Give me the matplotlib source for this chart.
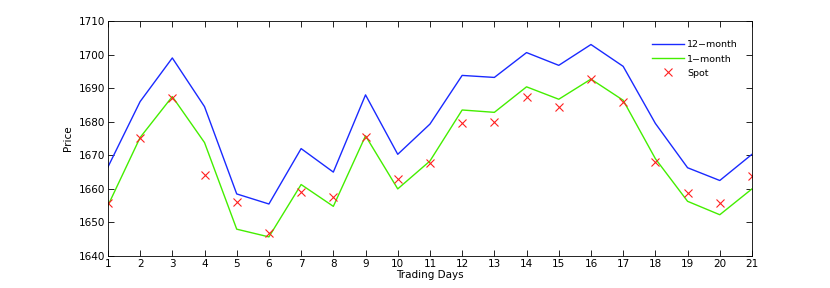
import matplotlib
matplotlib.use("Agg")
import matplotlib.pyplot as plt

days = list(range(1, 22))
m12 = [1666.5, 1686, 1699, 1684.5, 1658.5, 1655.5, 1672, 1665, 1688, 1670.3, 1679.3,
       1693.8, 1693.2, 1700.6, 1696.8, 1703, 1696.5, 1679.5, 1666.3, 1662.5, 1670.3]
m1 = [1655, 1675.3, 1687.5, 1673.8, 1648, 1645.7, 1661.3, 1654.8, 1675.8, 1660, 1668.3,
      1683.5, 1682.8, 1690.4, 1686.7, 1692.7, 1686.4, 1669, 1656.3, 1652.3, 1660]
spot = [1655.8, 1675.3, 1687, 1664, 1656, 1646.8, 1659.2, 1657.6, 1675.6, 1663, 1667.8,
        1679.5, 1680, 1687.5, 1684.3, 1692.8, 1685.8, 1668, 1658.8, 1655.7, 1663.8]
yticks = list(range(1640, 1711, 10))

plt.rcParams['font.family'] = ['DejaVu Sans']
fig = plt.figure(figsize=(8.30, 2.88), dpi=100)
ax = fig.add_axes([0.130, 0.111, 0.776, 0.816])
ax.plot(days, m12, color='#1a2aff', lw=1.0, label='12\u2212month')
ax.plot(days, m1, color='#44ee00', lw=1.0, label='1\u2212month')
ax.plot(days, spot, 'x', color='#ff2020', ms=6, mew=0.8, ls='none', label='Spot')
ax.set_xlim(1, 21)
ax.set_ylim(1640, 1710)
ax.set_xticks(days)
ax.set_yticks(yticks)
ax.tick_params(direction='in', top=True, right=True, labelsize=7.5, length=4, width=0.6, pad=2)
for s in ax.spines.values():
    s.set_linewidth(0.6)
ax.set_xlabel('Trading Days', fontsize=7.5, labelpad=1)
ax.set_ylabel('Price', fontsize=7.5, labelpad=4)
ax.legend(loc='upper right', frameon=False, fontsize=6.8, handlelength=3.4,
          handletextpad=0.3,
          bbox_to_anchor=(0.99, 0.95), borderpad=0.3, labelspacing=0.55)
fig.savefig('out.png', dpi=100)
